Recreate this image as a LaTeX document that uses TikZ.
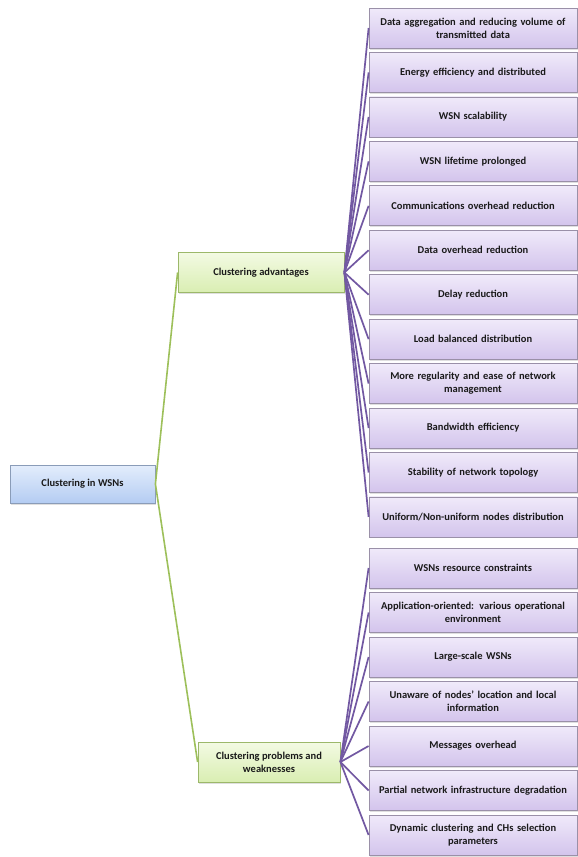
\documentclass[tikz,border=0pt]{standalone}
\usepackage{fontspec}
\setmainfont{Carlito}
\usetikzlibrary{shadows}
\definecolor{txt}{HTML}{1A1A1A}
\definecolor{lavtop}{HTML}{F0EAFA}
\definecolor{lavbot}{HTML}{D3C4EC}
\definecolor{lavline}{HTML}{9A90A8}
\definecolor{grntop}{HTML}{F3FAE3}
\definecolor{grnbot}{HTML}{D9EEB2}
\definecolor{grnline}{HTML}{9CB86A}
\definecolor{blutop}{HTML}{E3EDFC}
\definecolor{blubot}{HTML}{B4CCF2}
\definecolor{bluline}{HTML}{8A9CB8}
\definecolor{wireG}{HTML}{9DC05A}
\definecolor{wireP}{HTML}{7258A2}
\tikzset{
  basebox/.style={rectangle, draw, line width=0.8pt, align=center,
    font=\bfseries\fontsize{10.5}{13}\selectfont, text=txt, inner sep=2pt,
    drop shadow={shadow xshift=1pt, shadow yshift=-1.5pt, opacity=0.25}},
  leafbox/.style={basebox, draw=lavline, top color=lavtop, bottom color=lavbot,
    minimum width=208pt, text width=202pt, minimum height=40pt},
  midbox/.style={basebox, draw=grnline, top color=grntop, bottom color=grnbot,
    minimum height=40pt},
  rootbox/.style={basebox, draw=bluline, top color=blutop, bottom color=blubot,
    minimum width=145pt, minimum height=38pt},
  wireg/.style={draw=wireG, line width=1.6pt},
  wirep/.style={draw=wireP, line width=1.7pt},
}
\begin{document}
\begin{tikzpicture}[x=1pt, y=-1pt]
\useasboundingbox (0,0) rectangle (578,857);
\fill[white] (0,0) rectangle (578,857);

% root and the two branch boxes
\node[rootbox] (root) at (82.5,484) {Clustering in WSNs};
\node[midbox, minimum width=166pt] (adv) at (261,272.5) {Clustering advantages};
\node[midbox, minimum width=142pt] (prob) at (269,762) {Clustering problems and\\weaknesses};

% advantages
\foreach \t [count=\i] in {
  {Data aggregation and reducing volume of\\transmitted data},
  {Energy efficiency and distributed},
  {WSN scalability},
  {WSN lifetime prolonged},
  {Communications overhead reduction},
  {Data overhead reduction},
  {Delay reduction},
  {Load balanced distribution},
  {More regularity and ease of network\\management},
  {Bandwidth efficiency},
  {Stability of network topology},
  {Uniform/Non-uniform nodes distribution}}
{
  \node[leafbox] (a\i) at (473,{28+44.45*(\i-1)}) {\t};
}

% problems
\foreach \t [count=\i] in {
  {WSNs resource constraints},
  {Application-oriented: various operational\\environment},
  {Large-scale WSNs},
  {Unaware of nodes' location and local\\information},
  {Messages overhead},
  {Partial network infrastructure degradation},
  {Dynamic clustering and CHs selection\\parameters}}
{
  \node[leafbox] (p\i) at (473,{568+44.5*(\i-1)}) {\t};
}

% connectors
\draw[wireg] (root.east) -- (adv.west);
\draw[wireg] (root.east) -- (prob.west);
\foreach \i in {1,...,12} { \draw[wirep] (adv.east) -- (a\i.west); }
\foreach \i in {1,...,7} { \draw[wirep] (prob.east) -- (p\i.west); }
\end{tikzpicture}
\end{document}
